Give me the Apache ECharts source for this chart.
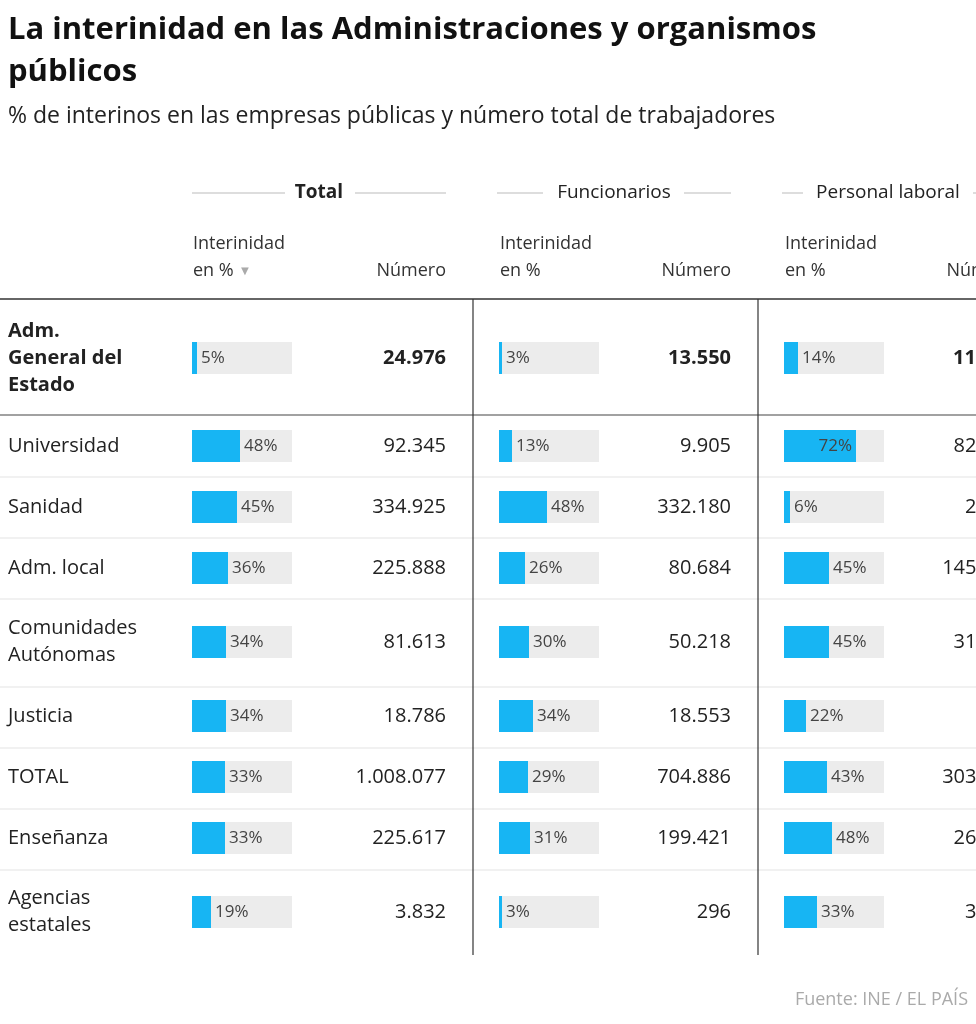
<!DOCTYPE html>
<html><head><meta charset="utf-8">
<script src="https://cdn.jsdelivr.net/npm/echarts@6/dist/echarts.min.js"></script>
<style>html,body{margin:0;padding:0;background:#fff}#c{width:976px;height:1024px}</style>
</head><body><div id="c"></div>
<script>
const categories = [["Adm.","General del","Estado"],["Universidad"],["Sanidad"],["Adm. local"],["Comunidades","Autónomas"],["Justicia"],["TOTAL"],["Enseñanza"],["Agencias","estatales"]];
const groups = ["Total","Funcionarios","Personal laboral"];
const totalPct = [5,48,45,36,34,34,33,33,19];
const totalNum = ["24.976","92.345","334.925","225.888","81.613","18.786","1.008.077","225.617","3.832"];
const funcPct = [3,13,48,26,30,34,29,31,3];
const funcNum = ["13.550","9.905","332.180","80.684","50.218","18.553","704.886","199.421","296"];
const labPct = [14,72,6,45,45,22,43,48,33];
const labNum = ["11.426","82.440","2.745","145.204","31.395","233","303.191","26.196","3.536"];

const pcts = [totalPct, funcPct, labPct];
const nums = [totalNum, funcNum, labNum];
const rowCenters = [358,446,507,568,642,716,777,838,912];
const sepY = [477,538,599,687,748,809,870];
const barX = [192,499,784];
const numRight = [446,731,1016];
const F = '"Open Sans", Roboto, sans-serif';
const R = 'Roboto, sans-serif';

const grid=[], xAxis=[], yAxis=[], series=[], graphic=[];
let gi=0;
categories.forEach((cat,r)=>{
  pcts.forEach((arr,g)=>{
    grid.push({left:barX[g], width:100, top:rowCenters[r]-16, height:32});
    xAxis.push({gridIndex:gi, type:'value', min:0, max:100, show:false});
    yAxis.push({gridIndex:gi, type:'category', data:[cat.join(' ')], show:false});
    const v = arr[r];
    series.push({type:'bar', xAxisIndex:gi, yAxisIndex:gi, data:[v], barWidth:'100%',
      itemStyle:{color:'#17b5f3'}, showBackground:true, backgroundStyle:{color:'#ececec'},
      label:{show:true, position: v>60?'insideRight':'right', distance:4, formatter:'{c}%', color:'#444', fontSize:17, fontFamily:F},
      silent:true, animation:false});
    graphic.push({type:'text', x:numRight[g], y:rowCenters[r], style:{text:nums[g][r], fill:'#222',
      font:(r===0?'bold ':'')+'20px '+F, textAlign:'right', textVerticalAlign:'middle'}});
    gi++;
  });
  const lh = 27, n=cat.length;
  cat.forEach((t,i)=>{
    graphic.push({type:'text', x:8, y:rowCenters[r]+(i-(n-1)/2)*lh, style:{text:t, fill:'#222',
      font:(r===0?'bold ':'')+'20px '+F, textVerticalAlign:'middle'}});
  });
});
graphic.push({type:'text',x:8,y:30,style:{text:'La interinidad en las Administraciones y organismos',font:'bold 31px '+F,fill:'#111',textVerticalAlign:'middle'}});
graphic.push({type:'text',x:8,y:72,style:{text:'públicos',font:'bold 31px '+F,fill:'#111',textVerticalAlign:'middle'}});
graphic.push({type:'text',x:8,y:116,style:{text:'% de interinos en las empresas públicas y número total de trabajadores',font:'23px '+F,fill:'#222',textVerticalAlign:'middle'}});
const hdr=[{c:319,l1:[192,285],l2:[355,446],b:true},{c:614,l1:[497,543],l2:[684,731]},{c:888,l1:[782,803],l2:[973,1016]}];
hdr.forEach((h,g)=>{
  graphic.push({type:'text',x:h.c,y:193,style:{text:groups[g],font:(h.b?'bold ':'')+'19px '+F,fill:'#222',textAlign:'center',textVerticalAlign:'middle'}});
  [h.l1,h.l2].forEach(l=>graphic.push({type:'line',shape:{x1:l[0],y1:193,x2:l[1],y2:193},style:{stroke:'#bbb',lineWidth:1}}));
  graphic.push({type:'text',x:barX[g]+1,y:244,style:{text:'Interinidad',font:'18px '+F,fill:'#333',textVerticalAlign:'middle'}});
  graphic.push({type:'text',x:barX[g]+1,y:271,style:{text:'en %'+(g===0?' {a|▼}':''),font:'18px '+F,fill:'#333',textVerticalAlign:'middle',rich:{a:{fill:'#aaa',fontSize:13}}}});
  graphic.push({type:'text',x:numRight[g],y:271,style:{text:'Número',font:'18px '+F,fill:'#333',textAlign:'right',textVerticalAlign:'middle'}});
});
graphic.push({type:'line',shape:{x1:0,y1:299,x2:976,y2:299},style:{stroke:'#333',lineWidth:1.5}});
graphic.push({type:'line',shape:{x1:0,y1:415,x2:976,y2:415},style:{stroke:'#444',lineWidth:1.2}});
sepY.forEach(y=>graphic.push({type:'line',shape:{x1:0,y1:y,x2:976,y2:y},style:{stroke:'#e3e3e3',lineWidth:1}}));
[473,758].forEach(x=>graphic.push({type:'line',shape:{x1:x,y1:299,x2:x,y2:955},style:{stroke:'#333',lineWidth:1.2}}));
graphic.push({type:'text',x:968,y:1000,style:{text:'Fuente: INE / EL PAÍS',font:'18px '+F,fill:'#aaa',textAlign:'right',textVerticalAlign:'middle'}});

const chart = echarts.init(document.getElementById('c'),null,{renderer:'canvas'});
chart.setOption({animation:false, grid, xAxis, yAxis, series, graphic});
</script></body></html>
